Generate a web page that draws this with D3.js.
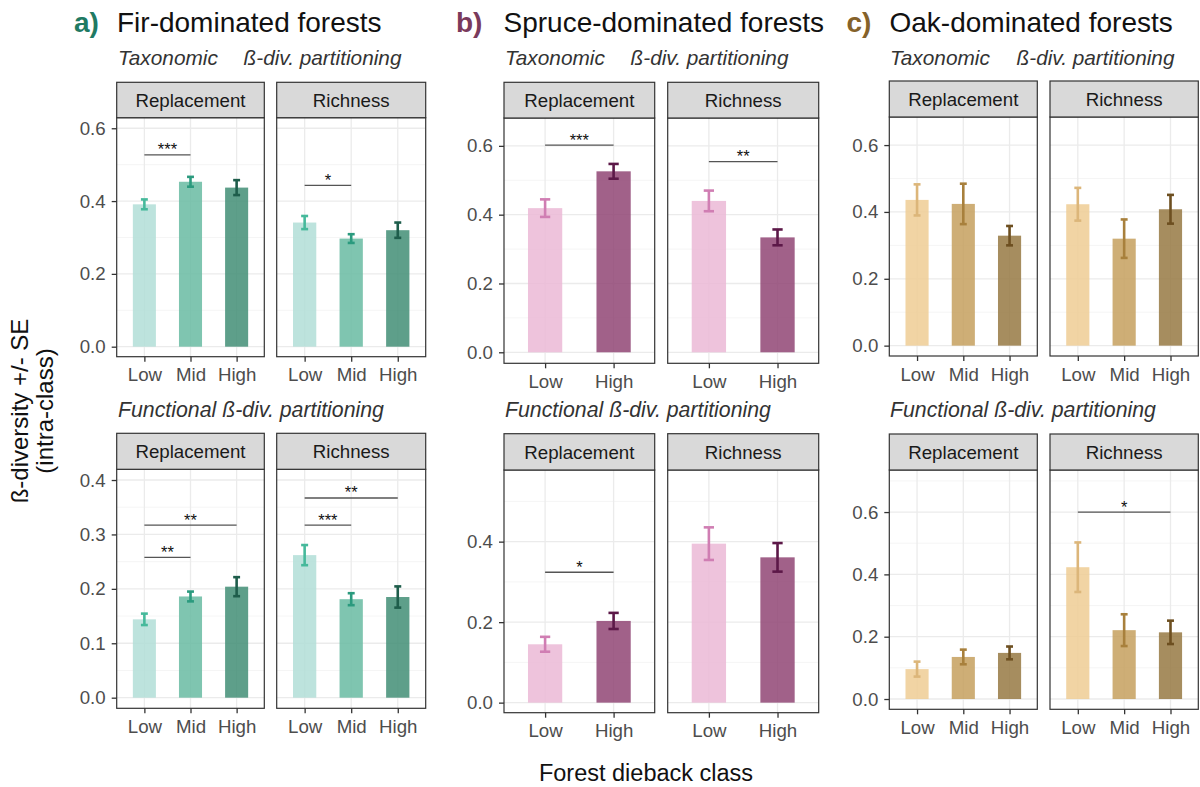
<!DOCTYPE html>
<html><head><meta charset="utf-8">
<script src="https://cdn.jsdelivr.net/npm/d3@7"></script>
<style>
body{margin:0;background:#fff;}
text{font-family:"Liberation Sans",Arial,sans-serif;}
</style></head>
<body><svg id="chart" width="1200" height="787"></svg>
<script>
// ---------------- DATA ----------------
const classes3 = ["Low", "Mid", "High"];
const classes2 = ["Low", "High"];
const facets = ["Replacement", "Richness"];

// Fir-dominated forests
const firTaxReplMean = [0.391, 0.453, 0.437];
const firTaxReplSE   = [0.0135, 0.0135, 0.0205];
const firTaxRichMean = [0.341, 0.297, 0.320];
const firTaxRichSE   = [0.018, 0.012, 0.021];
const firFunReplMean = [0.144, 0.186, 0.204];
const firFunReplSE   = [0.0105, 0.009, 0.0175];
const firFunRichMean = [0.262, 0.181, 0.185];
const firFunRichSE   = [0.0185, 0.011, 0.0195];

// Spruce-dominated forests
const spruceTaxReplMean = [0.419, 0.526];
const spruceTaxReplSE   = [0.0255, 0.0215];
const spruceTaxRichMean = [0.440, 0.334];
const spruceTaxRichSE   = [0.030, 0.023];
const spruceFunReplMean = [0.145, 0.203];
const spruceFunReplSE   = [0.0185, 0.020];
const spruceFunRichMean = [0.395, 0.361];
const spruceFunRichSE   = [0.0405, 0.0355];

// Oak-dominated forests
const oakTaxReplMean = [0.436, 0.424, 0.329];
const oakTaxReplSE   = [0.0465, 0.0605, 0.029];
const oakTaxRichMean = [0.423, 0.320, 0.408];
const oakTaxRichSE   = [0.049, 0.0575, 0.043];
const oakFunReplMean = [0.096, 0.135, 0.148];
const oakFunReplSE   = [0.024, 0.0235, 0.0205];
const oakFunRichMean = [0.423, 0.221, 0.214];
const oakFunRichSE   = [0.0795, 0.051, 0.0375];

// significance brackets: [from, to, y, label]
const firTaxReplSig = [["Low", "Mid", 0.527, "***"]];
const firTaxRichSig = [["Low", "Mid", 0.443, "*"]];
const firFunReplSig = [["Low", "Mid", 0.258, "**"], ["Low", "High", 0.317, "**"]];
const firFunRichSig = [["Low", "Mid", 0.317, "***"], ["Low", "High", 0.367, "**"]];
const spruceTaxReplSig = [["Low", "High", 0.602, "***"]];
const spruceTaxRichSig = [["Low", "High", 0.554, "**"]];
const spruceFunReplSig = [["Low", "High", 0.324, "*"]];
const spruceFunRichSig = [];
const oakTaxReplSig = [];
const oakTaxRichSig = [];
const oakFunReplSig = [];
const oakFunRichSig = [["Low", "High", 0.600, "*"]];

const tickLabels = {a: [0, 0.2, 0.4, 0.6], aF: [0, 0.1, 0.2, 0.3, 0.4], b: [0, 0.2, 0.4, 0.6], bF: [0, 0.2, 0.4], c: [0, 0.2, 0.4, 0.6], cF: [0, 0.2, 0.4, 0.6]};

// ---------------- STYLE / LAYOUT ----------------
const firFill = ["#b1ded7", "#68bba2", "#428e76"];
const firErr  = ["#46b99b", "#2b9a7e", "#1e5d4b"];
const spruceFill = ["#ebb8d6", "#904574"];
const spruceErr  = ["#d07eb3", "#5c1848"];
const oakFill = ["#eecd94", "#c6a05e", "#977943"];
const oakErr  = ["#dcb67a", "#a8803c", "#6d4f20"];
const FONT = '"Liberation Sans",Arial,sans-serif';
const TICK_FS = 18.7;

const svg = d3.select("#chart");

function drawPanel(cfg) {
  const g = svg.append("g");
  const x = d3.scalePoint().domain(cfg.cats).range([cfg.x0, cfg.x1]).padding(0.6);
  const step = x.step();
  const y = d3.scaleLinear().domain(cfg.dom).range([cfg.plotBottom, cfg.stripBottom]);
  g.append("rect").attr("x", cfg.x0).attr("y", cfg.stripBottom).attr("width", cfg.x1 - cfg.x0)
    .attr("height", cfg.plotBottom - cfg.stripBottom).attr("fill", "#fff");
  // minor gridlines
  const minor = [];
  for (let v = cfg.minorStep / 2 === 0.025 ? 0.05 : 0.1; v < cfg.dom[1]; v += cfg.minorStep) {
    const vv = +v.toFixed(3);
    if (!cfg.ticks.some(t => Math.abs(t - vv) < 1e-6) && vv > cfg.dom[0]) minor.push(vv);
  }
  g.selectAll(".mn").data(minor).enter().append("line")
    .attr("x1", cfg.x0).attr("x2", cfg.x1).attr("y1", d => y(d)).attr("y2", d => y(d))
    .attr("stroke", "#f2f2f2").attr("stroke-width", 0.8);
  const majorY = cfg.gridTicks.filter(t => t <= cfg.dom[1]);
  g.selectAll(".mj").data(majorY).enter().append("line")
    .attr("x1", cfg.x0).attr("x2", cfg.x1).attr("y1", d => y(d)).attr("y2", d => y(d))
    .attr("stroke", "#ebebeb").attr("stroke-width", 1.3);
  g.selectAll(".vx").data(cfg.cats).enter().append("line")
    .attr("x1", d => x(d)).attr("x2", d => x(d)).attr("y1", cfg.stripBottom).attr("y2", cfg.plotBottom)
    .attr("stroke", "#ebebeb").attr("stroke-width", 1.3);
  // bars
  const bw = step * 0.5;
  g.selectAll(".bar").data(cfg.cats).enter().append("rect")
    .attr("x", d => x(d) - bw / 2).attr("width", bw)
    .attr("y", (d, i) => y(cfg.mean[i])).attr("height", (d, i) => y(0) - y(cfg.mean[i]))
    .attr("fill", (d, i) => cfg.fill[i]).attr("fill-opacity", 0.85);
  // error bars
  const cw = step * 0.15;
  cfg.cats.forEach((c, i) => {
    const lo = cfg.mean[i] - cfg.se[i], hi = cfg.mean[i] + cfg.se[i];
    const col = cfg.err[i];
    g.append("line").attr("x1", x(c)).attr("x2", x(c)).attr("y1", y(lo)).attr("y2", y(hi))
      .attr("stroke", col).attr("stroke-width", 2.6);
    [lo, hi].forEach(v => g.append("line").attr("x1", x(c) - cw / 2).attr("x2", x(c) + cw / 2)
      .attr("y1", y(v)).attr("y2", y(v)).attr("stroke", col).attr("stroke-width", 2.6));
  });
  // significance
  cfg.sig.forEach(s => {
    g.append("line").attr("x1", x(s[0])).attr("x2", x(s[1])).attr("y1", y(s[2])).attr("y2", y(s[2]))
      .attr("stroke", "#555").attr("stroke-width", 1.3);
    g.append("text").attr("x", (x(s[0]) + x(s[1])) / 2).attr("y", y(s[2]) + 0.5)
      .attr("text-anchor", "middle").attr("font-size", 16.5).attr("fill", "#111").text(s[3]);
  });
  g.append("rect").attr("x", cfg.x0).attr("y", cfg.stripBottom).attr("width", cfg.x1 - cfg.x0)
    .attr("height", cfg.plotBottom - cfg.stripBottom).attr("fill", "none").attr("stroke", "#333").attr("stroke-width", 1.2);
  // strip
  g.append("rect").attr("x", cfg.x0).attr("y", cfg.stripTop).attr("width", cfg.x1 - cfg.x0)
    .attr("height", cfg.stripBottom - cfg.stripTop).attr("fill", "#d9d9d9").attr("stroke", "#333").attr("stroke-width", 1.2);
  g.append("text").attr("x", (cfg.x0 + cfg.x1) / 2).attr("y", (cfg.stripTop + cfg.stripBottom) / 2 + 6.7)
    .attr("text-anchor", "middle").attr("font-size", 18.7).attr("fill", "#1a1a1a").text(cfg.label);
  // x axis
  const xa = g.append("g").attr("transform", `translate(0,${cfg.plotBottom})`)
    .call(d3.axisBottom(x).tickSize(5).tickPadding(6.5));
  xa.select(".domain").remove();
  xa.selectAll("line").attr("stroke", "#333").attr("stroke-width", 1.3);
  xa.selectAll("text").attr("font-size", TICK_FS).attr("fill", "#4d4d4d").attr("font-family", FONT);
  // y axis
  if (cfg.showY) {
    const ya = g.append("g").attr("transform", `translate(${cfg.x0},0)`)
      .call(d3.axisLeft(y).tickValues(cfg.ticks).tickFormat(d3.format(".1f")).tickSize(5).tickPadding(6));
    ya.select(".domain").remove();
    ya.selectAll("line").attr("stroke", "#333").attr("stroke-width", 1.3);
    ya.selectAll("text").attr("font-size", TICK_FS).attr("fill", "#4d4d4d").attr("font-family", FONT);
  }
}

function group(o) {
  const rows = [
    {stripTop: o.top.st, stripBottom: o.top.sb, plotBottom: o.top.pb, dom: o.top.dom, ticks: o.top.ticks, gridTicks: o.top.ticks, minorStep: o.top.minor,
     data: [[o.tax[0], o.tax[1], o.tax[2]], [o.tax[3], o.tax[4], o.tax[5]]]},
    {stripTop: o.bot.st, stripBottom: o.bot.sb, plotBottom: o.bot.pb, dom: o.bot.dom, ticks: o.bot.ticks, gridTicks: o.bot.grid, minorStep: o.bot.minor,
     data: [[o.fun[0], o.fun[1], o.fun[2]], [o.fun[3], o.fun[4], o.fun[5]]]}
  ];
  rows.forEach(r => {
    facets.forEach((f, k) => {
      drawPanel({x0: o.cols[k][0], x1: o.cols[k][1], stripTop: r.stripTop, stripBottom: r.stripBottom, plotBottom: r.plotBottom,
        dom: r.dom, ticks: r.ticks, gridTicks: r.gridTicks, minorStep: r.minorStep, cats: o.cats,
        mean: r.data[k][0], se: r.data[k][1], sig: r.data[k][2], fill: o.fill, err: o.err, label: f, showY: k === 0});
    });
  });
  svg.append("text").attr("x", o.letterX).attr("y", 32).attr("font-size", 28).attr("font-weight", "bold")
    .attr("fill", o.letterColor).text(o.letter);
  svg.append("text").attr("x", o.titleX).attr("y", 32).attr("font-size", 28).attr("fill", "#111").text(o.title);
  svg.append("text").attr("x", o.subX).attr("y", 65).attr("font-size", 20.8).attr("font-style", "italic").attr("fill", "#333").text("Taxonomic");
  svg.append("text").attr("x", o.subX2).attr("y", 65).attr("font-size", 20.8).attr("font-style", "italic").attr("fill", "#333")
    .text("ß-div. partitioning");
  svg.append("text").attr("x", o.subX).attr("y", 416.7).attr("font-size", 21.3).attr("font-style", "italic").attr("fill", "#333").text("Functional ß-div. partitioning");
}

group({letter: "a)", letterX: 74, letterColor: "#1f7a63", title: "Fir-dominated forests", titleX: 117, subX: 118, subX2: 243.5,
  cols: [[116.7, 264.3], [276.7, 425.7]], cats: classes3, fill: firFill, err: firErr,
  top: {st: 82.3, sb: 117.7, pb: 356.7, dom: [-0.0275, 0.629], ticks: tickLabels.a, minor: 0.2},
  bot: {st: 433.3, sb: 469.3, pb: 708.3, dom: [-0.0195, 0.4197], ticks: tickLabels.aF, grid: tickLabels.aF, minor: 0.05},
  tax: [firTaxReplMean, firTaxReplSE, firTaxReplSig, firTaxRichMean, firTaxRichSE, firTaxRichSig],
  fun: [firFunReplMean, firFunReplSE, firFunReplSig, firFunRichMean, firFunRichSE, firFunRichSig]});

group({letter: "b)", letterX: 456, letterColor: "#7a3a5c", title: "Spruce-dominated forests", titleX: 503.5, subX: 505, subX2: 630.5,
  cols: [[504, 654.7], [667.7, 818.7]], cats: classes2, fill: spruceFill, err: spruceErr,
  top: {st: 82.3, sb: 118, pb: 363.3, dom: [-0.032, 0.681], ticks: tickLabels.b, minor: 0.2},
  bot: {st: 433.7, sb: 470, pb: 712.7, dom: [-0.025, 0.578], ticks: tickLabels.bF, grid: tickLabels.bF, minor: 0.2},
  tax: [spruceTaxReplMean, spruceTaxReplSE, spruceTaxReplSig, spruceTaxRichMean, spruceTaxRichSE, spruceTaxRichSig],
  fun: [spruceFunReplMean, spruceFunReplSE, spruceFunReplSig, spruceFunRichMean, spruceFunRichSE, spruceFunRichSig]});

group({letter: "c)", letterX: 846.5, letterColor: "#85622a", title: "Oak-dominated forests", titleX: 889.5, subX: 890, subX2: 1016.5,
  cols: [[889.3, 1037.3], [1050, 1198.3]], cats: classes3, fill: oakFill, err: oakErr,
  top: {st: 81, sb: 117, pb: 356, dom: [-0.031, 0.684], ticks: tickLabels.c, minor: 0.2},
  bot: {st: 434, sb: 470, pb: 709.3, dom: [-0.033, 0.735], ticks: tickLabels.cF, grid: tickLabels.cF, minor: 0.2},
  tax: [oakTaxReplMean, oakTaxReplSE, oakTaxReplSig, oakTaxRichMean, oakTaxRichSE, oakTaxRichSig],
  fun: [oakFunReplMean, oakFunReplSE, oakFunReplSig, oakFunRichMean, oakFunRichSE, oakFunRichSig]});

// axis titles
svg.append("text").attr("transform", "translate(28,411) rotate(-90)").attr("text-anchor", "middle")
  .attr("font-size", 24).attr("fill", "#111").text("ß-diversity +/- SE");
svg.append("text").attr("transform", "translate(53,411) rotate(-90)").attr("text-anchor", "middle")
  .attr("font-size", 24).attr("fill", "#111").text("(intra-class)");
svg.append("text").attr("x", 646).attr("y", 781).attr("text-anchor", "middle").attr("font-size", 23.5)
  .attr("fill", "#111").text("Forest dieback class");
</script></body></html>
